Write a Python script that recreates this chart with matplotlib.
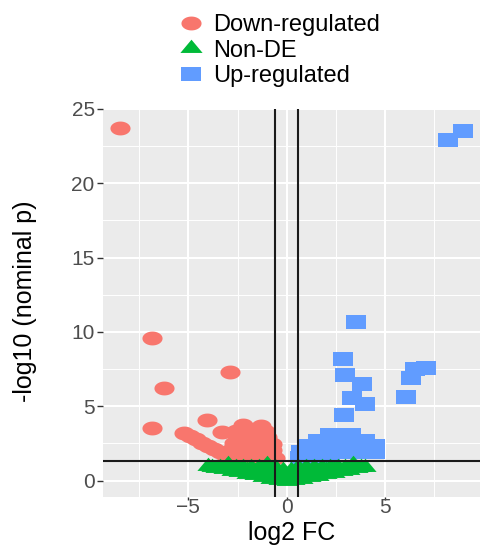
import numpy as np
import matplotlib
matplotlib.use("Agg")
import matplotlib.pyplot as plt
from matplotlib.lines import Line2D

plt.rcParams['font.family'] = ['Liberation Sans', 'DejaVu Sans']

# volcano plot values
down_x = [-8.5, -6.85, -6.25, -2.9, -6.85, -4.05, -3.3,
          -5.2, -4.9, -4.6, -4.3, -4.0, -3.7, -3.4, -3.1,
          -2.2, -1.3,
          -2.6, -2.1, -1.6, -1.1,
          -2.5, -2.0, -1.5, -1.0,
          -2.7, -2.2, -1.7, -1.2, -0.75,
          -2.8, -2.3, -1.8, -1.3, -0.75,
          -2.9, -2.4, -1.9, -1.4, -0.9, -0.6,
          -2.6, -2.1, -1.6, -1.1]
down_y = [23.75, 9.6, 6.2, 7.3, 3.55, 4.1, 3.3,
          3.2, 2.98, 2.77, 2.55, 2.34, 2.12, 1.9, 1.69,
          3.75, 3.7,
          3.35, 3.35, 3.35, 3.35,
          2.95, 2.95, 2.95, 2.95,
          2.55, 2.55, 2.55, 2.55, 2.45,
          2.15, 2.15, 2.15, 2.15, 2.05,
          1.75, 1.75, 1.75, 1.75, 1.7, 1.5,
          1.4, 1.4, 1.4, 1.4]

up_x = [9.0, 8.2, 3.55, 2.85, 3.0, 3.85, 3.35, 4.0, 2.9,
        6.55, 7.1, 6.35, 6.1,
        2.2, 2.7, 3.3,
        1.6, 2.1, 2.6, 3.1, 3.6, 4.0,
        1.1, 1.6, 2.1, 2.6, 3.1, 3.6, 4.1, 4.5,
        0.75, 1.2, 1.7, 2.2, 2.7, 3.2, 3.7, 4.2, 4.5,
        0.7, 1.2, 1.7, 2.2]
up_y = [23.5, 22.9, 10.7, 8.15, 7.1, 6.5, 5.55, 5.15, 4.4,
        7.5, 7.6, 6.9, 5.6,
        3.05, 3.05, 3.05,
        2.65, 2.65, 2.65, 2.65, 2.65, 2.65,
        2.3, 2.3, 2.3, 2.3, 2.3, 2.3, 2.3, 2.3,
        1.9, 1.9, 1.9, 1.9, 1.9, 1.9, 1.9, 1.9, 1.9,
        1.55, 1.55, 1.55, 1.55]

nonde_x = [-4.0, -3.6, -3.2, -2.8, -2.4, -2.0, -1.6, -1.2, -0.8, -0.4, 0.0,
           0.4, 0.8, 1.2, 1.6, 2.0, 2.4, 2.8, 3.2, 3.6, 4.0,
           -3.8, -3.4, -3.0, -2.6, -2.2, -1.8, -1.4, -1.0, -0.6, -0.2,
           0.2, 0.6, 1.0, 1.4, 1.8, 2.2, 2.6, 3.0, 3.4, 3.8,
           -2.4, -2.0, -1.6, -1.2, -0.8, -0.4, 0.0, 0.4, 0.8, 1.2, 1.6, 2.0, 2.4]
nonde_y = [1.0, 0.88, 0.76, 0.66, 0.56, 0.46, 0.36, 0.25, 0.14, 0.05, 0.0,
           0.05, 0.14, 0.24, 0.33, 0.43, 0.53, 0.63, 0.73, 0.83, 0.95,
           0.95, 0.95, 1.15, 0.95, 0.95, 0.95, 0.95, 1.15, 0.9, 0.7,
           0.7, 0.9, 0.95, 0.95, 0.95, 0.95, 0.95, 0.95, 1.15, 0.95,
           0.75, 0.7, 0.65, 0.55, 0.5, 0.4, 0.35, 0.4, 0.5, 0.55, 0.65, 0.7, 0.75]

labels = ['Down-regulated', 'Non-DE', 'Up-regulated']
colors = ['#F8766D', '#00BA38', '#619CFF']

fc_cut = 0.585
p_cut = 1.3

# the picture is stretched sideways, so the markers are too
t = np.linspace(0, 2 * np.pi, 40)
ellipse = list(zip(1.45 * np.cos(t), np.sin(t)))
square = [(-1.45, -1), (1.45, -1), (1.45, 1), (-1.45, 1), (-1.45, -1)]
triangle = [(-1.45, -0.58), (1.45, -0.58), (0, 1.15), (-1.45, -0.58)]

fig = plt.figure(figsize=(4.8, 5.46), dpi=100)
ax = fig.add_axes([103 / 480, 49 / 546, 377 / 480, 388 / 546])
ax.set_facecolor('#EBEBEB')
for s in ax.spines.values():
    s.set_visible(False)

ax.set_xlim(-9.35, 9.85)
ax.set_ylim(-1.1, 24.95)
ax.set_xticks([-5, 0, 5])
ax.set_xticks([-7.5, -2.5, 2.5, 7.5], minor=True)
ax.set_yticks([0, 5, 10, 15, 20, 25])
ax.set_yticks([2.5, 7.5, 12.5, 17.5, 22.5], minor=True)
ax.grid(True, which='major', color='white', lw=1.5)
ax.grid(True, which='minor', color='white', lw=0.7)
ax.set_axisbelow(True)
ax.tick_params(which='major', length=4, width=1, color='#333333',
               labelsize=15, labelcolor='#4D4D4D', pad=2)
ax.tick_params(axis='x', which='major', length=2, pad=-1)
ax.tick_params(which='minor', length=0)

ms = 14.5
ax.plot(down_x, down_y, ls='none', marker=ellipse, ms=ms, mew=0, color=colors[0])
ax.plot(up_x, up_y, ls='none', marker=square, ms=ms, mew=0, color=colors[2])
ax.plot(nonde_x, nonde_y, ls='none', marker=triangle, ms=16, mew=0, color=colors[1])

ax.axvline(-fc_cut, color='#1a1a1a', lw=1.5)
ax.axvline(fc_cut, color='#1a1a1a', lw=1.5)
ax.axhline(p_cut, color='#1a1a1a', lw=1.5)

ax.set_xlabel('log2 FC', fontsize=18)
ax.xaxis.set_label_coords(0.501, -0.063)
ax.set_ylabel('-log10 (nominal p)', fontsize=18)
ax.yaxis.set_label_coords(-0.175, 0.505)

handles = [Line2D([], [], ls='none', marker=ellipse, ms=ms, mew=0, color=colors[0]),
           Line2D([], [], ls='none', marker=triangle, ms=16, mew=0, color=colors[1]),
           Line2D([], [], ls='none', marker=square, ms=ms, mew=0, color=colors[2])]
fig.legend(handles, labels, loc='upper left', bbox_to_anchor=(0.373, 0.974),
           frameon=False, fontsize=17, handlelength=1.0, handletextpad=0.44,
           labelspacing=0.14, borderpad=0, borderaxespad=0)

fig.savefig('out.png', dpi=100)
